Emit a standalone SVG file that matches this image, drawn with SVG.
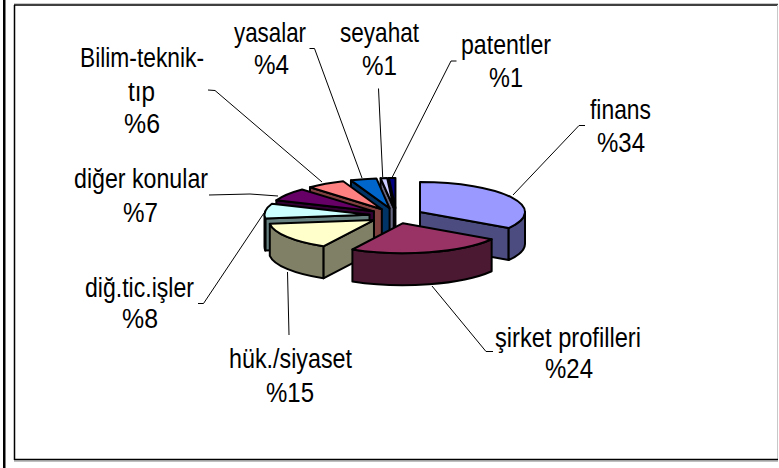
<svg xmlns="http://www.w3.org/2000/svg" width="779" height="468" viewBox="0 0 779 468">
  <style>
    .face { stroke: #000; stroke-width: 2; stroke-linejoin: round; }
    .leader { fill: none; stroke: #000; stroke-width: 1; }
    .lbl { font-family: "Liberation Sans", Arial, sans-serif; font-size: 27.5px; fill: #000; text-anchor: middle; }
    .fin-top { fill: #9999FF; } .fin-side { fill: #4C4C80; }
    .sir-top { fill: #993366; } .sir-side { fill: #4C1933; }
    .huk-top { fill: #FFFFCC; } .huk-side { fill: #808066; }
    .tic-top { fill: #CCFFFF; } .tic-side { fill: #668080; }
    .dig-top { fill: #660066; } .dig-side { fill: #330033; }
    .bil-top { fill: #FF8080; } .bil-side { fill: #804040; }
    .yas-top { fill: #0066CC; } .yas-side { fill: #003366; }
    .sey-top { fill: #CCCCFF; } .sey-side { fill: #666680; }
    .pat-top { fill: #000080; } .pat-side { fill: #000040; }
  </style>

  <!-- page background and chart frame -->
  <rect x="0" y="0" width="779" height="468" fill="#fff"/>
  <rect x="3" y="0" width="2.5" height="468" fill="#000"/>
  <g id="frame">
    <line x1="14" y1="3.5" x2="778" y2="3.5" stroke="#c8c8c8" stroke-width="1"/>
    <line x1="14" y1="5" x2="778" y2="5" stroke="#000" stroke-width="1.5"/>
    <line x1="14.5" y1="5" x2="14.5" y2="460" stroke="#000" stroke-width="1.5"/>
    <line x1="777.5" y1="5" x2="777.5" y2="460" stroke="#c8c8c8" stroke-width="1"/>
    <line x1="14" y1="459.5" x2="778" y2="459.5" stroke="#000" stroke-width="1.5"/>
    <line x1="14" y1="461" x2="778" y2="461" stroke="#808080" stroke-width="1"/>
  </g>

  <!-- leader lines from labels to slices -->
  <g id="connectors">
    <polyline class="leader" points="585,125.5 579,125.5 513,195"/>
    <polyline class="leader" points="432,286 486,351.5 493,351.5"/>
    <polyline class="leader" points="287.5,272 289,335"/>
    <polyline class="leader" points="264,213 203.5,303.5 198,303.5"/>
    <polyline class="leader" points="209,195 250,194 278,196"/>
    <polyline class="leader" points="322,182 215,90.5 208,90"/>
    <polyline class="leader" points="362,178 314.5,48.5 309.5,48.5"/>
    <polyline class="leader" points="378.5,88.5 382.7,177"/>
    <polyline class="leader" points="456.5,61 451,61 392.3,177"/>
  </g>

  <!-- slices, painted back to front -->
  <g id="patentler">
    <path class="face pat-side" d="M395.45,207.99 L388.86,178.05 L388.86,210.05 L395.45,239.99 Z"/>
    <path class="face pat-top" d="M395.45,207.99 L388.86,178.05 A105,30 0 0 1 395.45,177.99 Z"/>
    <text class="lbl" x="506" y="54" textLength="90" lengthAdjust="spacingAndGlyphs">patentler</text>
    <text class="lbl" x="506" y="87" textLength="34" lengthAdjust="spacingAndGlyphs">%1</text>
  </g>
  <g id="seyahat">
    <path class="face sey-side" d="M393.76,208.02 L380.6,178.26 L380.6,210.26 L393.76,240.02 Z"/>
    <path class="face sey-top" d="M393.76,208.02 L380.6,178.26 A105,30 0 0 1 387.17,178.08 Z"/>
    <text class="lbl" x="379.5" y="42" textLength="79" lengthAdjust="spacingAndGlyphs">seyahat</text>
    <text class="lbl" x="379.5" y="75" textLength="35" lengthAdjust="spacingAndGlyphs">%1</text>
  </g>
  <g id="yasalar">
    <path class="face yas-side" d="M389.59,208.23 L350.94,180.34 L350.94,212.34 L389.59,240.23 Z"/>
    <path class="face yas-top" d="M389.59,208.23 L350.94,180.34 A105,30 0 0 1 376.43,178.47 Z"/>
    <text class="lbl" x="270" y="42" textLength="72" lengthAdjust="spacingAndGlyphs">yasalar</text>
    <text class="lbl" x="271.5" y="74" textLength="35" lengthAdjust="spacingAndGlyphs">%4</text>
  </g>
  <g id="bilim-teknik-tip">
    <path class="face bil-side" d="M381.83,209.19 L309.96,187.32 L309.96,219.32 L381.83,241.19 Z"/>
    <path class="face bil-top" d="M381.83,209.19 L309.96,187.32 A105,30 0 0 1 343.18,181.3 Z"/>
    <text class="lbl" x="142" y="67" textLength="124" lengthAdjust="spacingAndGlyphs">Bilim-teknik-</text>
    <text class="lbl" x="141.5" y="101" textLength="27" lengthAdjust="spacingAndGlyphs">tıp</text>
    <text class="lbl" x="142" y="133" textLength="36" lengthAdjust="spacingAndGlyphs">%6</text>
  </g>
  <g id="diger-konular">
    <path class="face dig-side" d="M373.97,211.36 L276.34,200.32 L276.34,232.32 L373.97,243.36 Z"/>
    <path class="face dig-top" d="M373.97,211.36 L276.34,200.32 A105,30 0 0 1 302.1,189.49 Z"/>
    <text class="lbl" x="141" y="188" textLength="134" lengthAdjust="spacingAndGlyphs">diğer konular</text>
    <text class="lbl" x="140.5" y="222" textLength="35" lengthAdjust="spacingAndGlyphs">%7</text>
  </g>
  <g id="dig-tic-isler">
    <path class="face tic-side" d="M369.51,214.73 L265.34,218.49 L265.34,250.49 L369.51,246.73 Z"/>
    <path class="face tic-side" d="M265.34,218.49 A105,30 0 0 1 264.51,214.73 L264.51,246.73 A105,30 0 0 0 265.34,250.49 Z"/>
    <path class="face tic-top" d="M369.51,214.73 L265.34,218.49 A105,30 0 0 1 271.88,203.69 Z"/>
    <text class="lbl" x="139.5" y="297" textLength="109" lengthAdjust="spacingAndGlyphs">diğ.tic.işler</text>
    <text class="lbl" x="140" y="328" textLength="36" lengthAdjust="spacingAndGlyphs">%8</text>
  </g>
  <g id="huk-siyaset">
    <path class="face huk-side" d="M373.97,220.04 L323.38,246.33 L323.38,278.33 L373.97,252.04 Z"/>
    <path class="face huk-side" d="M323.38,246.33 A105,30 0 0 1 269.8,223.8 L269.8,255.8 A105,30 0 0 0 323.38,278.33 Z"/>
    <path class="face huk-top" d="M373.97,220.04 L323.38,246.33 A105,30 0 0 1 269.8,223.8 Z"/>
    <text class="lbl" x="290.5" y="368" textLength="123" lengthAdjust="spacingAndGlyphs">hük./siyaset</text>
    <text class="lbl" x="290" y="402" textLength="48" lengthAdjust="spacingAndGlyphs">%15</text>
  </g>
  <g id="finans">
    <path class="face fin-side" d="M420,212 L508.65,228.07 L508.65,260.07 L420,244 Z"/>
    <path class="face fin-side" d="M525,212 A105,30 0 0 1 508.65,228.07 L508.65,260.07 A105,30 0 0 0 525,244 Z"/>
    <path class="face fin-top" d="M420,212 L420,182 A105,30 0 0 1 508.65,228.07 Z"/>
    <text class="lbl" x="620.5" y="119" textLength="61" lengthAdjust="spacingAndGlyphs">finans</text>
    <text class="lbl" x="621" y="152" textLength="48" lengthAdjust="spacingAndGlyphs">%34</text>
  </g>
  <g id="sirket-profilleri">
    <path class="face sir-side" d="M491.65,239.27 A105,30 0 0 1 352.41,249.49 L352.41,281.49 A105,30 0 0 0 491.65,271.27 Z"/>
    <path class="face sir-top" d="M403,223.2 L491.65,239.27 A105,30 0 0 1 352.41,249.49 Z"/>
    <text class="lbl" x="568" y="347" textLength="146" lengthAdjust="spacingAndGlyphs">şirket profilleri</text>
    <text class="lbl" x="569" y="378" textLength="48" lengthAdjust="spacingAndGlyphs">%24</text>
  </g>
</svg>
